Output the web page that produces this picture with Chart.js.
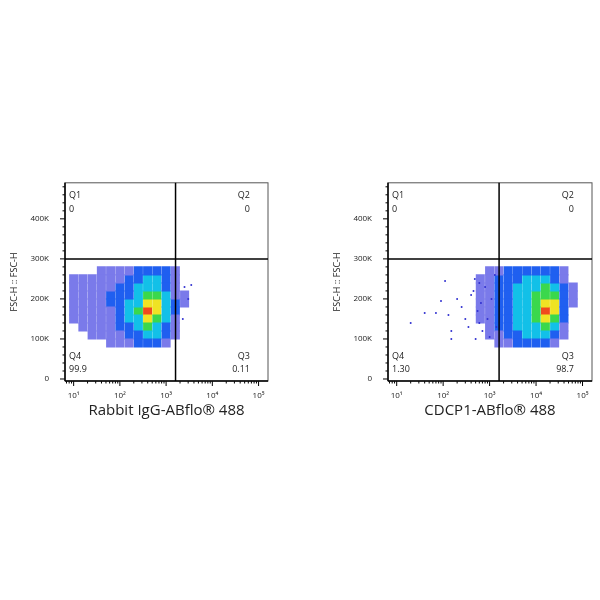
<!DOCTYPE html>
<html>
<head>
<meta charset="utf-8">
<script src="https://cdn.jsdelivr.net/npm/chart.js@4/dist/chart.umd.min.js"></script>
<style>
  body { margin: 0; background: #fff; }
  .box { position: absolute; top: 170px; width: 300px; height: 250px; }
</style>
</head>
<body>
<div class="box" style="left:0"><canvas id="c1" width="300" height="250"></canvas></div>
<div class="box" style="left:300px"><canvas id="c2" width="300" height="250"></canvas></div>
<script>
// density bins: x = log10 bin centers, y = FSC-H bin centers, levels 0..6
const yBins = [270000, 250000, 230000, 210000, 190000, 170000, 150000, 130000, 110000, 90000];

const leftXBins = [1.0, 1.2, 1.4, 1.6, 1.8, 2.0, 2.2, 2.4, 2.6, 2.8, 3.0, 3.2, 3.4];
const leftDensity = [
  [0,0,0,1,1,1,1,2,2,2,2,1,0],
  [1,1,1,1,1,1,2,2,3,3,2,1,0],
  [1,1,1,1,1,2,2,3,3,3,2,1,0],
  [1,1,1,1,2,2,2,3,4,4,3,1,1],
  [1,1,1,1,2,2,3,3,5,5,3,2,1],
  [1,1,1,1,1,2,3,4,6,5,3,2,0],
  [1,1,1,1,1,2,3,3,5,4,3,1,0],
  [0,1,1,1,1,2,2,3,4,3,2,1,0],
  [0,0,1,1,1,1,2,2,3,3,2,1,0],
  [0,0,0,0,1,1,1,2,2,2,1,0,0]
];
const leftOutliers = [[2500,230000],[3000,200000],[2300,150000],[3500,235000]];

const rightXBins = [2.8, 3.0, 3.2, 3.4, 3.6, 3.8, 4.0, 4.2, 4.4, 4.6, 4.8];
const rightDensity = [
  [0,1,1,2,2,2,2,2,2,1,0],
  [1,1,2,2,2,3,3,3,2,1,0],
  [1,1,2,2,3,3,3,4,3,2,1],
  [1,1,2,2,3,3,4,4,4,2,1],
  [1,1,2,2,3,3,4,5,5,2,1],
  [1,1,2,2,3,3,4,6,5,2,0],
  [1,1,2,2,3,3,4,5,4,2,0],
  [0,1,2,2,3,3,3,4,3,1,0],
  [0,1,1,2,2,3,3,3,2,1,0],
  [0,0,1,1,2,2,2,2,1,0,0]
];
const rightOutliers = [[20,140000],[40,165000],[70,165000],[110,245000],[90,195000],[130,160000],
  [150,120000],[150,100000],[200,200000],[250,180000],[300,150000],[350,130000],[400,210000],
  [450,220000],[500,100000],[550,170000],[600,240000],[650,190000],[700,120000],[800,230000],
  [900,150000],[1000,105000],[1100,200000],[1300,260000],[1400,130000],[600,140000],[480,250000]];

const levelColors = ['', '#7a7aea', '#1f5ff0', '#12c0e8', '#3ad84c', '#efe324', '#ef4a1e'];

const panels = [
  { id: 'c1', xBins: leftXBins, dens: leftDensity, out: leftOutliers, title: 'Rabbit IgG-ABflo® 488',
    padL: 5, padR: 32, q: ['0', '0', '0.11', '99.9'] },
  { id: 'c2', xBins: rightXBins, dens: rightDensity, out: rightOutliers, title: 'CDCP1-ABflo® 488',
    padL: 28, padR: 8, q: ['0', '0', '98.7', '1.30'] }
];
const xGate = 1600, yGate = 300000;
const sup = { 1: '¹', 2: '²', 3: '³', 4: '⁴', 5: '⁵' };

const flowPlugin = {
  id: 'flow',
  afterDatasetsDraw(chart, args, opts) {
    const { ctx, chartArea: a, scales: { x, y } } = chart;
    ctx.save();
    // minor ticks
    ctx.strokeStyle = '#000';
    ctx.lineWidth = 1;
    for (let e = 0; e < 6; e++) {
      for (let m = 1; m < 10; m++) {
        const v = m * Math.pow(10, e);
        if (v < x.min || v > x.max) continue;
        const px = x.getPixelForValue(v);
        const len = m === 1 ? 5 : 2.5;
        ctx.beginPath(); ctx.moveTo(px, a.bottom); ctx.lineTo(px, a.bottom + len); ctx.stroke();
      }
    }
    for (let v = 0; v <= 480000; v += 20000) {
      const py = y.getPixelForValue(v);
      const len = v % 100000 === 0 ? 5 : 2.5;
      ctx.beginPath(); ctx.moveTo(a.left, py); ctx.lineTo(a.left - len, py); ctx.stroke();
    }
    // frame
    ctx.strokeStyle = '#555';
    ctx.strokeRect(a.left, a.top, a.right - a.left, a.bottom - a.top);
    ctx.strokeStyle = '#000';
    ctx.lineWidth = 1.5;
    ctx.beginPath(); ctx.moveTo(a.left, a.bottom); ctx.lineTo(a.right, a.bottom); ctx.stroke();
    ctx.beginPath(); ctx.moveTo(a.left, a.top); ctx.lineTo(a.left, a.bottom); ctx.stroke();
    // quadrant gates
    const gx = x.getPixelForValue(xGate), gy = y.getPixelForValue(yGate);
    ctx.beginPath(); ctx.moveTo(gx, a.top); ctx.lineTo(gx, a.bottom); ctx.stroke();
    ctx.beginPath(); ctx.moveTo(a.left, gy); ctx.lineTo(a.right, gy); ctx.stroke();
    // quadrant labels
    ctx.fillStyle = '#222';
    ctx.font = '9px "Open Sans", sans-serif';
    ctx.textBaseline = 'alphabetic';
    ctx.textAlign = 'left';
    ctx.fillText('Q1', a.left + 4, a.top + 15);
    ctx.fillText(opts.q[0], a.left + 4, a.top + 29);
    ctx.fillText('Q4', a.left + 4, a.bottom - 22);
    ctx.fillText(opts.q[3], a.left + 4, a.bottom - 9);
    ctx.textAlign = 'right';
    ctx.fillText('Q2', a.right - 18, a.top + 15);
    ctx.fillText(opts.q[1], a.right - 18, a.top + 29);
    ctx.fillText('Q3', a.right - 18, a.bottom - 22);
    ctx.fillText(opts.q[2], a.right - 18, a.bottom - 9);
    ctx.restore();
  }
};

panels.forEach(p => {
  const datasets = [];
  for (let lvl = 1; lvl <= 6; lvl++) {
    const pts = [];
    p.dens.forEach((row, r) => row.forEach((d, c) => {
      if (d === lvl) pts.push({ x: Math.pow(10, p.xBins[c]), y: yBins[r] });
    }));
    datasets.push({ data: pts, pointStyle: 'rect', pointRadius: 6.4, backgroundColor: levelColors[lvl], borderWidth: 0 });
  }
  datasets.unshift({ data: p.out.map(o => ({ x: o[0], y: o[1] })), pointRadius: 1, backgroundColor: '#3030d0', borderWidth: 0 });

  new Chart(document.getElementById(p.id), {
    type: 'scatter',
    data: { datasets },
    plugins: [flowPlugin],
    options: {
      responsive: false,
      animation: false,
      events: [],
      layout: { padding: { left: p.padL, right: p.padR, top: 8, bottom: 0 } },
      plugins: { legend: { display: false }, tooltip: { enabled: false }, flow: { q: p.q } },
      scales: {
        x: {
          type: 'logarithmic', min: 6.5, max: 160000,
          afterBuildTicks: s => { s.ticks = [10, 100, 1000, 10000, 100000].map(v => ({ value: v })); },
          afterFit: s => { s.height = 39; },
          grid: { display: false },
          border: { display: false },
          ticks: { color: '#222', font: { size: 8, family: 'Open Sans' }, padding: 2,
            callback: v => '10' + sup[Math.round(Math.log10(v))] },
          title: { display: true, text: p.title, color: '#222', font: { size: 15, family: 'Open Sans' }, padding: { top: 2, bottom: 0 } }
        },
        y: {
          min: -5000, max: 490000,
          afterBuildTicks: s => { s.ticks = [0, 100000, 200000, 300000, 400000].map(v => ({ value: v })); },
          afterFit: s => { s.width = 60; },
          grid: { display: false },
          border: { display: false },
          ticks: { color: '#222', font: { size: 8, family: 'Open Sans' }, padding: 8,
            callback: v => v === 0 ? '0' : (v / 1000) + 'K' },
          title: { display: true, text: 'FSC-H :: FSC-H', color: '#222', font: { size: 9, family: 'Open Sans' }, padding: { bottom: 14 } }
        }
      }
    }
  });
});
</script>
</body>
</html>
